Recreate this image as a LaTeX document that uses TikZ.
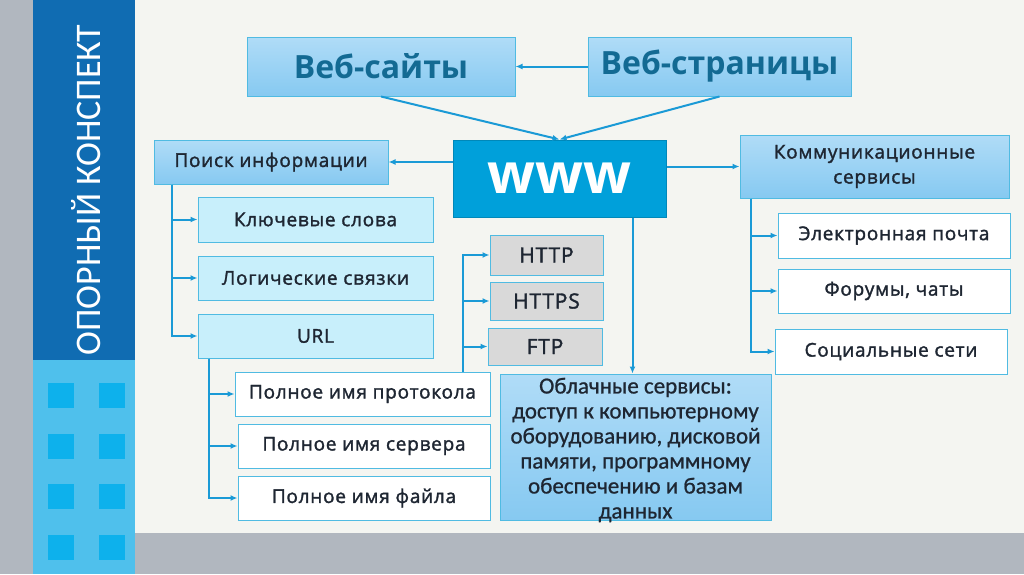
\documentclass[tikz,border=0pt]{standalone}
\usepackage{fontspec}
\setmainfont{Open Sans}
\newfontfamily\calfont{Carlito}
\newfontfamily\cloudfont[FakeBold=0.8]{Carlito}
\newfontfamily\boxfont[FakeBold=1.6,LetterSpace=4]{Open Sans}
\usetikzlibrary{positioning,calc}
\usetikzlibrary{arrows.meta}
\definecolor{SideGray}{RGB}{177,183,191}
\definecolor{SideBlue}{RGB}{16,108,178}
\definecolor{SideSky}{RGB}{79,192,236}
\definecolor{SquareBlue}{RGB}{13,177,236}
\definecolor{PageBack}{RGB}{244,245,241}
\definecolor{LineBlue}{RGB}{26,154,214}
\definecolor{FrameBlue}{RGB}{80,187,226}
\definecolor{WebText}{RGB}{19,106,147}
\definecolor{InkDark}{RGB}{30,38,50}
\definecolor{WwwBlue}{RGB}{0,160,218}
\definecolor{PaleCyan}{RGB}{200,239,251}
\definecolor{BoxGray}{RGB}{217,217,217}
\definecolor{GradTop}{RGB}{176,220,247}
\definecolor{GradBot}{RGB}{134,201,241}
\tikzset{
  box/.style={draw=FrameBlue,line width=1pt,inner sep=0pt,align=center,text=InkDark,
    font=\boxfont\fontsize{19}{25}\selectfont},
  grad/.style={box,top color=GradTop,bottom color=GradBot},
  pale/.style={box,fill=PaleCyan},
  plain/.style={box,fill=white},
  graybox/.style={box,fill=BoxGray,font=\boxfont\fontsize{21}{24}\selectfont},
  link/.style={draw=LineBlue,line width=2pt,-{Latex[length=7pt,width=6pt]}},
}

\begin{document}
\begin{tikzpicture}[x=1pt,y=-1pt]
\useasboundingbox (0,0) rectangle (1024,574);
% background and side bar
\fill[PageBack] (135,0) rectangle (1024,533);
\fill[SideGray] (135,533) rectangle (1024,574);
\fill[SideGray] (0,0) rectangle (33,574);
\fill[SideBlue] (33,0) rectangle (135,360);
\fill[SideSky] (33,360) rectangle (135,574);
\foreach \r in {0,...,3}{
  \foreach \c in {0,1}{
    \fill[SquareBlue] ({48+51*\c},{383+50.7*\r}) rectangle ++(26,25);
  }
}
\node[rotate=90,text=white,font=\calfont\fontsize{36}{40}\selectfont] (title) at (86,190) {ОПОРНЫЙ КОНСПЕКТ};

\coordinate (c-sites) at (381,66.5);
\coordinate (c-pages) at (719.5,66.5);
\coordinate (c-www) at (559.5,178.5);
\coordinate (c-poisk) at (271,162);
\coordinate (c-komm) at (874.5,166.5);

\node[grad,minimum width=268pt,minimum height=59pt,text=WebText,
  font=\bfseries\fontsize{32}{40}\selectfont] (sites) at (c-sites) {Веб-сайты};
\node[grad,minimum width=263pt,minimum height=59pt,text=WebText,
  font=\bfseries\fontsize{32}{40}\selectfont] (pages) at (c-pages) {Веб-страницы};
\node[draw=WwwBlue!85!black,fill=WwwBlue,line width=1pt,minimum width=213pt,minimum height=77pt,
  text=white,font=\bfseries\fontsize{56}{60}\selectfont] (www) at (c-www) {www};
\node[grad,minimum width=234pt,minimum height=44pt] (poisk) at (c-poisk) {Поиск информации};
\node[grad,minimum width=269pt,minimum height=63pt] (komm) at (c-komm) {Коммуникационные\\сервисы};

% search branch
\node[pale,minimum width=235pt,minimum height=45pt] (kw) at (315.5,219.5) {Ключевые слова};
\node[pale,minimum width=235pt,minimum height=44pt] (logic) at (315.5,278) {Логические связки};
\node[pale,minimum width=235pt,minimum height=44pt] (url) at (315.5,336) {URL};
\node[plain,minimum width=255pt,minimum height=44pt] (proto) at (362.5,394) {Полное имя протокола};
\node[plain,minimum width=252pt,minimum height=44pt] (server) at (364,446) {Полное имя сервера};
\node[plain,minimum width=252pt,minimum height=44pt] (file) at (364,498) {Полное имя файла};

% protocols
\node[graybox,minimum width=113pt,minimum height=40pt] (http) at (546.5,255) {HTTP};
\node[graybox,minimum width=113pt,minimum height=38pt] (https) at (546.5,301) {HTTPS};
\node[graybox,minimum width=114pt,minimum height=37pt] (ftp) at (545,346.5) {FTP};

% cloud
\node[grad,minimum width=271pt,minimum height=146pt] (cloud) at (635.5,447) {};
\node[text=InkDark,align=center,font=\cloudfont\fontsize{23}{25}\selectfont] (cloudtxt) at (635.5,450)
  {Облачные сервисы:\\доступ к компьютерному\\оборудованию, дисковой\\памяти, программному\\обеспечению и базам\\данных};

% communication branch
\node[plain,minimum width=232pt,minimum height=45pt] (mail) at (894,235.5) {Электронная почта};
\node[plain,minimum width=232pt,minimum height=44pt] (forum) at (894,291) {Форумы, чаты};
\node[plain,minimum width=232pt,minimum height=45pt] (social) at (891,351.5) {Социальные сети};

\draw[link] (pages.west) -- (sites.east);
\draw[link] (sites.south) -- (www.north);
\draw[link] (pages.south) -- (www.north);
\draw[link] (www.west |- poisk.east) -- (poisk.east);
\draw[link] (www.east |- komm.west) -- (komm.west);
\coordinate (drop) at ([xshift=-34pt]www.south east);
\draw[link] (drop) -- (drop |- cloud.north);

\draw[link] ([xshift=18pt]poisk.south west) |- (kw.west);
\draw[link] ([xshift=18pt]poisk.south west) |- (logic.west);
\draw[link] ([xshift=18pt]poisk.south west) |- (url.west);
\draw[link] ([xshift=11pt]url.south west) |- (proto.west);
\draw[link] ([xshift=11pt]url.south west) |- (server.west);
\draw[link] ([xshift=11pt]url.south west) |- (file.west);
\draw[link] ([xshift=-28pt]proto.north east) |- (http.west);
\draw[link] ([xshift=-28pt]proto.north east) |- (https.west);
\draw[link] ([xshift=-28pt]proto.north east) |- (ftp.west);
\draw[link] ([xshift=11pt]komm.south west) |- (mail.west);
\draw[link] ([xshift=11pt]komm.south west) |- (forum.west);
\draw[link] ([xshift=11pt]komm.south west) |- (social.west);
\end{tikzpicture}
\end{document}
